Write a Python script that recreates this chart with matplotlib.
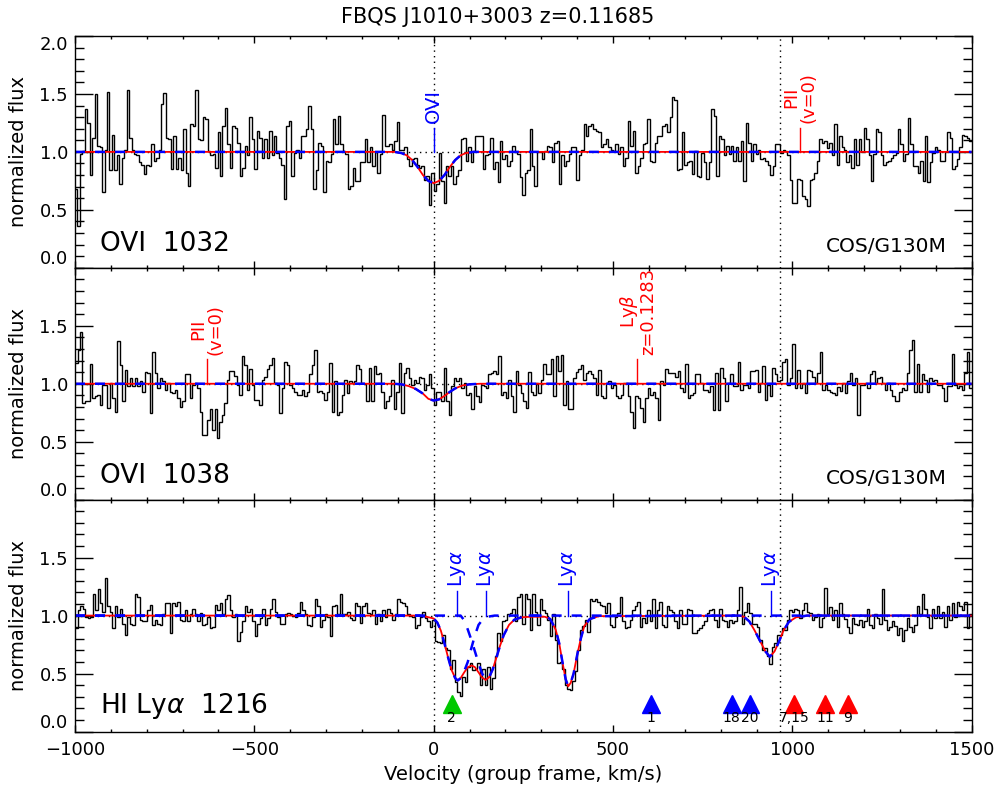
import numpy as np
import matplotlib
matplotlib.use('Agg')
from matplotlib import pyplot as plt
from matplotlib.ticker import MultipleLocator

# ---- spectra (normalized flux per bin, -1000..1500 km/s) ----
flux_o1032 = [
    0.68, 0.36, 0.98, 1.01, 1.37, 1.25, 0.80, 1.12, 1.50, 1.05,
    1.04, 0.65, 1.02, 1.52, 0.84, 1.15, 0.84, 0.97, 0.72, 0.95,
    1.02, 1.53, 1.12, 1.02, 0.98, 0.97, 0.91, 0.89, 0.81, 0.89,
    0.88, 1.07, 0.92, 0.95, 1.02, 1.41, 1.51, 1.12, 1.11, 0.85,
    1.14, 0.85, 0.95, 0.84, 1.20, 0.82, 0.71, 1.24, 1.22, 1.53,
    1.11, 1.10, 1.30, 1.28, 1.01, 0.97, 0.98, 0.86, 1.17, 0.79,
    1.22, 1.38, 1.07, 0.86, 1.22, 1.21, 1.08, 0.79, 0.86, 1.05,
    0.97, 1.30, 1.11, 0.85, 1.18, 1.12, 0.95, 1.11, 0.95, 1.18,
    0.97, 1.14, 0.99, 0.95, 0.89, 0.59, 1.22, 1.27, 0.79, 0.99,
    1.02, 0.95, 1.14, 1.14, 1.20, 1.40, 1.20, 0.68, 0.84, 1.08,
    1.05, 0.65, 0.92, 0.91, 0.98, 1.28, 1.07, 1.31, 1.07, 1.01,
    0.98, 0.68, 0.71, 0.86, 0.75, 0.75, 0.91, 0.91, 1.11, 0.91,
    1.04,
    0.88, 1.00, 0.82, 0.98, 1.32, 1.05, 1.05, 1.07, 1.02, 1.09,
    1.26, 1.02, 1.02, 1.04, 0.94, 0.88, 0.94, 0.95, 0.89, 0.86,
    0.88, 0.76, 0.79, 0.54, 0.82, 0.66, 0.72, 0.99, 0.75, 0.56,
    0.88, 0.79, 0.88, 0.72, 0.79, 0.84, 1.11, 1.12, 0.92, 1.04,
    0.91, 1.01, 1.14, 1.14, 1.14, 0.85, 0.97, 0.98, 1.12, 0.85,
    0.91, 0.74, 1.09, 0.94, 0.97, 0.88, 0.92, 1.05, 1.00, 0.98,
    0.78, 0.63, 0.82, 0.84, 1.20, 0.88, 0.71, 1.00, 1.00, 0.94,
    1.01, 1.05, 1.04, 0.91, 1.08, 1.09, 0.72, 0.97, 0.88, 0.92,
    0.98, 1.04, 1.04, 0.76, 0.97, 1.02, 1.24, 1.14, 1.22, 1.24,
    1.20, 1.18, 1.17, 1.04, 1.07, 1.11, 1.04, 1.02, 1.01, 1.07,
    0.98, 1.04, 0.88, 0.95, 1.27, 1.05, 1.18, 0.82, 0.88, 0.95,
    1.07, 1.08, 1.28, 0.92, 0.91, 1.08, 1.14, 1.14, 1.22, 1.24,
    1.17, 1.30, 1.47,
    1.45, 0.84, 0.85, 1.17, 0.89, 0.91, 0.92, 0.81, 1.01, 0.79,
    0.78, 0.99, 0.91, 0.77, 0.91, 1.37, 1.31, 0.79, 1.14, 1.11,
    0.97, 1.05, 0.98, 1.05, 0.92, 1.04, 0.92, 1.09, 0.75, 1.25,
    1.08, 0.92, 1.07, 0.98, 1.02, 0.94, 0.95, 0.92, 0.89, 0.80,
    0.88, 1.07, 1.07, 0.99, 1.02, 1.01, 0.97, 0.76, 0.56, 0.56,
    0.77, 0.76, 0.62, 0.59, 0.53, 0.76, 0.77, 0.82, 0.92, 1.11,
    1.08, 1.09, 1.03, 1.08, 0.97, 1.24, 0.89, 1.14, 1.04, 1.02,
    0.91, 0.97, 0.86, 1.11, 0.89, 1.11, 1.00, 1.21, 1.11, 0.97,
    0.75, 0.98, 1.20, 1.17, 0.97, 0.89, 0.91, 0.92, 0.95, 0.97,
    0.99, 1.20, 1.07, 0.92, 0.98, 1.29, 1.07, 0.88, 0.88, 0.82,
    0.92, 0.75, 1.14, 0.74, 0.91, 0.99, 1.04, 1.02, 0.92, 0.92,
    1.00, 1.17, 1.12, 0.85, 0.88, 0.94, 1.04, 1.15, 1.14, 1.12,
    1.09]

flux_o1038 = [
    1.18, 1.29, 1.45, 0.83, 0.85, 0.85, 1.17, 0.88, 0.89, 0.90,
    0.82, 0.99, 0.99, 0.79, 1.01, 0.88, 0.76, 1.37, 1.16, 0.85,
    1.12, 0.98, 1.05, 0.98, 1.05, 0.98, 1.02, 0.93, 1.10, 1.09,
    0.75, 1.27, 1.09, 0.96, 1.05, 1.02, 0.95, 1.01, 0.93, 0.92,
    0.95, 0.88, 0.80, 0.85, 1.08, 1.08, 0.88, 0.99, 1.01, 0.96,
    0.76, 0.56, 0.56, 0.69, 0.78, 0.60, 0.78, 0.53, 0.67, 0.73,
    0.83, 1.03, 1.11, 1.11, 1.07, 0.99, 0.90, 1.24, 1.16, 0.95,
    1.13, 0.99, 0.86, 0.86, 0.82, 1.03, 1.06, 1.13, 1.16, 1.22,
    1.01, 0.99, 0.75, 0.96, 1.19, 1.16, 0.99, 0.96, 0.93, 0.90,
    0.90, 0.95, 0.89, 0.93, 1.08, 1.16, 1.29, 0.93, 0.94, 0.92,
    0.86, 0.93, 1.18, 0.76, 1.02, 0.73, 0.76, 0.90, 1.03, 0.92,
    1.02, 1.01, 1.02, 1.16, 1.13, 1.01, 1.00, 0.85, 1.14, 0.85,
    1.15, 1.08, 1.09, 0.93, 0.79, 0.85, 0.89, 1.03, 0.78, 0.93,
    1.18, 0.75, 1.09, 1.14, 1.05, 0.99, 1.03, 1.01, 1.06, 1.05,
    0.95, 0.99, 1.08, 0.96, 0.82, 0.93, 0.93, 0.85, 1.14, 0.85,
    0.73, 0.98, 1.05, 1.02, 1.05, 0.96, 1.01, 0.90, 0.92, 0.78,
    0.98, 0.89, 0.84, 0.99, 0.98, 0.96, 1.08, 1.09, 1.11, 1.08,
    1.24, 0.90, 0.93, 0.88, 1.03, 0.89, 0.76, 1.11, 0.99, 0.92,
    0.85, 0.79, 1.10, 0.93, 0.90, 1.01, 0.92, 1.03, 1.17, 1.08,
    1.08, 1.21, 0.89, 1.24, 1.11, 1.25, 0.82, 1.02, 0.78, 0.78,
    1.05, 1.10, 1.13, 1.16, 1.03, 1.09, 1.11, 1.08, 1.05, 0.90,
    1.12, 0.89, 0.88, 1.01, 1.02, 0.96, 0.99, 0.89, 0.88, 0.90,
    1.01, 1.01, 0.89, 0.76, 0.62, 0.89, 0.88, 0.79, 0.67, 0.88,
    0.96, 0.90, 0.93, 0.88, 0.69, 1.02, 0.99, 1.13, 1.09, 1.09,
    1.09, 1.06, 1.11, 0.96, 0.93, 1.17, 0.88, 0.90, 0.92, 1.08,
    1.08, 1.01, 0.95, 0.95, 0.93, 0.98, 0.77, 1.09, 0.77, 1.14,
    1.05, 0.85, 1.01, 1.08, 0.98, 0.98, 1.19, 0.95, 0.99, 0.99,
    0.96, 1.11, 1.11, 1.12, 0.93, 1.01, 1.15, 0.86, 0.99, 0.89,
    1.14, 1.08, 1.02, 1.03, 1.19, 1.21, 0.99, 1.05, 1.34, 0.96,
    1.12, 0.96, 1.01, 0.92, 1.12, 1.11, 1.06, 1.01, 1.09, 1.27,
    0.95, 0.99, 0.95, 0.93, 0.92, 0.90, 0.97, 0.94, 1.01, 0.92,
    1.02, 1.09, 0.99, 1.05, 0.73, 0.99, 0.99, 1.01, 0.96, 1.08,
    1.11, 1.01, 1.05, 1.06, 1.01, 0.95, 1.01, 0.95, 0.89, 0.85,
    0.85, 0.93, 0.96, 0.95, 1.09, 1.29, 1.38, 0.93, 1.17, 0.93,
    1.08, 1.03, 0.93, 1.05, 1.02, 1.03, 0.99, 0.99, 0.96, 0.85,
    0.98, 0.98, 1.26, 0.99, 0.96, 0.98, 0.95, 1.09, 1.27, 0.96]

flux_lya = [
    0.89, 1.05, 1.08, 1.06, 0.99, 0.98, 0.99, 1.19, 1.05, 1.23,
    1.11, 1.03, 1.32, 1.08, 1.03, 0.89, 1.08, 0.99, 1.06, 0.93,
    0.83, 0.99, 0.93, 0.92, 1.19, 1.16, 0.96, 0.95, 0.95, 1.05,
    1.09, 0.92, 0.96, 0.93, 0.92, 1.01, 1.11, 1.11, 0.85, 1.11,
    1.08, 1.12, 0.96, 0.95, 1.05, 0.95, 1.01, 1.06, 1.01, 0.95,
    1.02, 0.92, 0.93, 0.99, 0.89, 0.90, 1.09, 1.05, 1.11, 1.01,
    1.14, 1.18, 1.05, 0.99, 1.01, 0.78, 0.86, 0.95, 1.08, 1.03,
    1.06, 0.95, 0.82, 0.93, 0.98, 1.06, 0.92, 0.98, 1.06, 1.14,
    1.03, 0.99, 0.93, 0.93, 1.01, 1.02, 1.01, 1.00, 0.99, 1.02,
    1.12, 1.05, 1.01, 0.92, 0.91, 0.99, 1.14, 1.08, 0.90, 0.96,
    1.01, 0.99, 0.82, 1.08, 1.09, 1.01, 1.19, 1.01, 1.01, 1.03,
    0.98, 0.96, 1.11, 1.08, 0.94, 1.08, 1.11, 1.02, 1.01,
    1.05, 0.93, 1.01, 0.95, 1.05, 0.99, 1.06, 1.02, 0.96, 1.01,
    1.14, 1.12, 1.11, 1.08, 1.01, 1.00, 0.99, 0.89, 0.92, 0.99,
    1.03, 0.98, 0.95, 0.90, 0.96, 0.78, 0.77, 0.76, 0.83, 0.72,
    0.70, 0.54, 0.62, 0.43, 0.34, 0.31, 0.47, 0.43, 0.56, 0.59,
    0.53, 0.54, 0.59, 0.40, 0.54, 0.40, 0.56, 0.37, 0.46, 0.65,
    0.85, 0.78, 0.95, 0.96, 1.01, 1.02, 1.06, 0.95, 1.16, 1.19,
    0.93, 1.19, 1.14, 0.88, 1.19, 1.03, 0.92, 1.14, 1.05, 1.02,
    0.96, 0.82, 1.01, 0.79, 0.59, 0.60, 0.54, 0.40, 0.37, 0.36,
    0.44, 0.52, 0.70, 0.88, 0.91, 0.96, 0.86, 1.14, 1.13, 1.14,
    1.12, 1.09, 1.08, 1.02, 1.11, 0.92, 0.90, 0.99, 1.02, 1.16,
    0.95, 0.89, 0.90, 0.96, 1.05, 1.08, 1.12, 0.90, 0.98, 0.94,
    1.05, 0.95, 1.14, 0.89, 1.05, 1.12, 0.92, 0.90, 1.08, 1.05,
    1.03, 0.95, 0.89, 1.05, 0.93, 0.93, 1.06, 1.05, 0.85, 0.85,
    0.88, 0.89, 0.92, 0.95, 1.02, 1.05, 1.06, 0.96, 0.90, 1.06,
    0.96, 0.95, 0.90, 0.96, 0.94, 0.95, 1.05, 1.25, 0.93, 1.03,
    1.11, 1.02, 0.93, 0.93, 0.90, 0.79, 0.70, 0.72, 0.65, 0.58,
    0.73, 0.76, 0.83, 0.83, 0.89, 0.88, 0.96, 1.05, 1.03, 1.06,
    1.05, 0.98, 1.05, 1.11, 1.03, 1.02, 0.96, 0.99, 1.01, 0.90,
    0.98, 1.24, 1.01, 1.07, 0.96, 1.05, 0.90, 1.11, 1.01, 0.97,
    0.90, 0.85, 0.98, 0.93, 0.92, 0.96, 0.90, 0.95, 1.06, 0.92,
    0.89, 1.01, 0.98, 0.93, 1.23, 0.96, 0.88, 0.90, 0.95, 0.91,
    0.83, 0.89, 0.78, 0.88, 0.98, 0.90, 0.86, 0.92, 1.08, 1.01,
    1.19, 1.06, 0.99, 0.89, 1.06, 0.98, 1.08, 0.98, 1.03, 0.90,
    1.08, 0.96, 1.11, 0.99, 1.12, 1.08, 1.05, 1.12, 0.89, 1.01]

# ---- fitted models (velocity knots, flux) ----
mod1_v = [-1000, -110, -90, -75, -60, -45, -30, -15, 0, 15, 30, 45, 60, 75, 90, 110, 1500]
mod1_f = [1.0, 1.0, 0.99, 0.97, 0.93, 0.87, 0.80, 0.75, 0.73, 0.75, 0.80, 0.87, 0.93, 0.97, 0.99, 1.0, 1.0]

mod2_v = [-1000, -110, -90, -70, -50, -30, -15, 0, 15, 30, 45, 60, 80, 100, 130, 1500]
mod2_f = [1.0, 1.0, 0.995, 0.98, 0.955, 0.915, 0.87, 0.855, 0.865, 0.895, 0.93, 0.96, 0.985, 0.995, 1.0, 1.0]

tot3_v = [-1000, -40, -20, 0, 10, 20, 30, 40, 50, 60, 67, 75, 85, 95, 106, 115, 125, 135, 145, 155,
          165, 175, 185, 195, 210, 225, 245, 270, 310, 325, 340, 350, 360, 368, 375, 382, 390, 400, 410, 420,
          435, 460, 850, 865, 880, 895, 910, 925, 937, 950, 962, 975, 990, 1010, 1040, 1500]
tot3_f = [1.0, 1.0, 0.99, 0.975, 0.94, 0.87, 0.76, 0.64, 0.53, 0.46, 0.44, 0.46, 0.51, 0.555, 0.57, 0.555, 0.51, 0.465, 0.445, 0.47,
          0.54, 0.64, 0.74, 0.83, 0.92, 0.965, 0.985, 0.99, 0.99, 0.97, 0.88, 0.76, 0.58, 0.45, 0.39, 0.42, 0.50, 0.66, 0.80, 0.91,
          0.97, 0.995, 1.0, 0.99, 0.95, 0.87, 0.78, 0.69, 0.645, 0.69, 0.77, 0.87, 0.945, 0.985, 1.0, 1.0]

compA_v = [-1000, -40, -20, 0, 10, 20, 30, 40, 50, 60, 67, 75, 85, 95, 105, 115, 125, 135, 150, 170,
           310, 325, 340, 350, 360, 368, 375, 382, 390, 400, 410, 420, 435, 460, 850, 865, 880, 895, 910, 925,
           937, 950, 962, 975, 990, 1010, 1040, 1500]
compA_f = [1.0, 1.0, 0.99, 0.975, 0.94, 0.87, 0.76, 0.64, 0.53, 0.46, 0.44, 0.46, 0.52, 0.60, 0.72, 0.83, 0.92, 0.96, 0.99, 1.0,
           1.0, 0.97, 0.88, 0.76, 0.58, 0.45, 0.39, 0.42, 0.50, 0.66, 0.80, 0.91, 0.97, 0.995, 1.0, 0.99, 0.95, 0.87, 0.78, 0.69,
           0.645, 0.69, 0.77, 0.87, 0.945, 0.985, 1.0, 1.0]

compB_v = [-1000, 75, 85, 95, 105, 115, 125, 135, 145, 155, 165, 175, 185, 195, 210, 225, 245, 270, 1500]
compB_f = [1.0, 1.0, 0.96, 0.88, 0.79, 0.69, 0.59, 0.50, 0.45, 0.47, 0.54, 0.64, 0.74, 0.83, 0.92, 0.965, 0.985, 1.0, 1.0]

# ---- line identifications ----
ids1_v = [0, 1020]
ids1_lbl = ['OVI', 'PII\n(v=0)']
ids1_col = ['blue', 'red']
ids2_v = [-633, 568]
ids2_lbl = ['PII\n(v=0)', 'Ly$\\beta$\nz=0.1283']
ids2_col = ['red', 'red']
ids3_v = [64, 145, 375, 940]
ids3_lbl = ['Ly$\\alpha$', 'Ly$\\alpha$', 'Ly$\\alpha$', 'Ly$\\alpha$']
ids3_col = ['blue', 'blue', 'blue', 'blue']

# galaxies (triangles)
gal_v = [50, 605, 831, 882, 1005, 1091, 1154]
gal_lbl = ['2', '1', '18', '20', '7,15', '11', '9']
gal_col = ['#00c800', 'blue', 'blue', 'blue', 'red', 'red', 'red']

vlines = [0, 965]

fig = plt.figure(figsize=(9.95, 7.87), dpi=100)
left, right = 0.0754, 0.9766
bottom, top = 0.0705, 0.9543
h = (top - bottom) / 3.0
axs = [fig.add_axes([left, top - (i + 1) * h, right - left, h]) for i in range(3)]

spectra = [flux_o1032, flux_o1038, flux_lya]
names = ['OVI  1032', 'OVI  1038', 'HI Ly$\\alpha$  1216']
ids = [(ids1_v, ids1_lbl, ids1_col), (ids2_v, ids2_lbl, ids2_col), (ids3_v, ids3_lbl, ids3_col)]

for i, ax in enumerate(axs):
    f = np.array(spectra[i])
    edges = np.linspace(-1000, 1500, len(f) + 1)
    ax.stairs(f, edges, baseline=None, color='black', lw=1.0)
    ax.axhline(1.0, color='black', ls=(0, (1, 3)), lw=1.0)
    for xv in vlines:
        ax.axvline(xv, color='black', ls=(0, (1, 3)), lw=1.0)

    if i == 0:
        ax.plot(mod1_v, mod1_f, color='red', lw=1.3)
        ax.plot(mod1_v, mod1_f, color='blue', lw=1.8, ls=(0, (4, 4)))
    elif i == 1:
        ax.plot(mod2_v, mod2_f, color='red', lw=1.3)
        ax.plot(mod2_v, mod2_f, color='blue', lw=1.8, ls=(0, (4, 4)))
    else:
        ax.plot(tot3_v, tot3_f, color='red', lw=1.3)
        ax.plot(compA_v, compA_f, color='blue', lw=1.8, ls=(0, (4, 4)))
        ax.plot(compB_v, compB_f, color='blue', lw=1.8, ls=(0, (4, 4)))

    lv, ll, lc = ids[i]
    for v, lab, c in zip(lv, ll, lc):
        ax.plot([v, v], [1.0, 1.21], color=c, lw=1.0)
        fs = 14 if '\n' not in lab else 13
        ax.text(v, 1.25, lab, rotation=90, ha='center', va='bottom', color=c,
                fontsize=fs, linespacing=0.95)

    ax.text(0.028, 0.045, names[i], transform=ax.transAxes, fontsize=19,
            ha='left', va='bottom')
    if i < 2:
        ax.text(0.972, 0.05, 'COS/G130M', transform=ax.transAxes, fontsize=14.5,
                ha='right', va='bottom')

    ax.set_xlim(-1000, 1500)
    ax.set_ylim(0, 2.0)
    ax.xaxis.set_major_locator(MultipleLocator(500))
    ax.xaxis.set_minor_locator(MultipleLocator(100))
    if i == 0:
        ax.set_yticks([0, 0.5, 1.0, 1.5, 2.0])
    else:
        ax.set_yticks([0, 0.5, 1.0, 1.5])
    ax.yaxis.set_minor_locator(MultipleLocator(0.1))
    ax.tick_params(which='both', direction='in', top=True, right=True, labelsize=13)
    ax.tick_params(axis='y', which='major', length=13, width=1.0, pad=5)
    ax.tick_params(axis='y', which='minor', length=6.5, width=1.0)
    ax.tick_params(axis='x', which='major', length=5, width=1.0, pad=7)
    ax.tick_params(axis='x', which='minor', length=2.5, width=1.0)
    ax.yaxis.set_major_formatter(plt.FormatStrFormatter('%.1f'))
    ax.set_ylabel('normalized flux', fontsize=14, labelpad=8)
    for s in ax.spines.values():
        s.set_linewidth(1.0)
    if i < 2:
        ax.tick_params(axis='x', labelbottom=False)

    # end labels sit inside the panel, like the original
    yt = ax.yaxis.get_major_ticks()
    yt[0].label1.set_verticalalignment('bottom')
    if i == 0:
        yt[-1].label1.set_verticalalignment('top')

# galaxy markers on the Lya panel
ax3 = axs[2]
for v, lab, c in zip(gal_v, gal_lbl, gal_col):
    ax3.plot(v, 0.24, marker='^', ms=13, color=c, mec=c)
    ax3.text(v, 0.115, lab, ha='center', va='center', fontsize=10)

ax3.set_xlabel('Velocity (group frame, km/s)', fontsize=14, labelpad=4)
fig.text(0.5, 1 - 17 / 787, 'FBQS J1010+3003 z=0.11685', ha='center', va='center', fontsize=15)

fig.savefig('out.png', dpi=100)
